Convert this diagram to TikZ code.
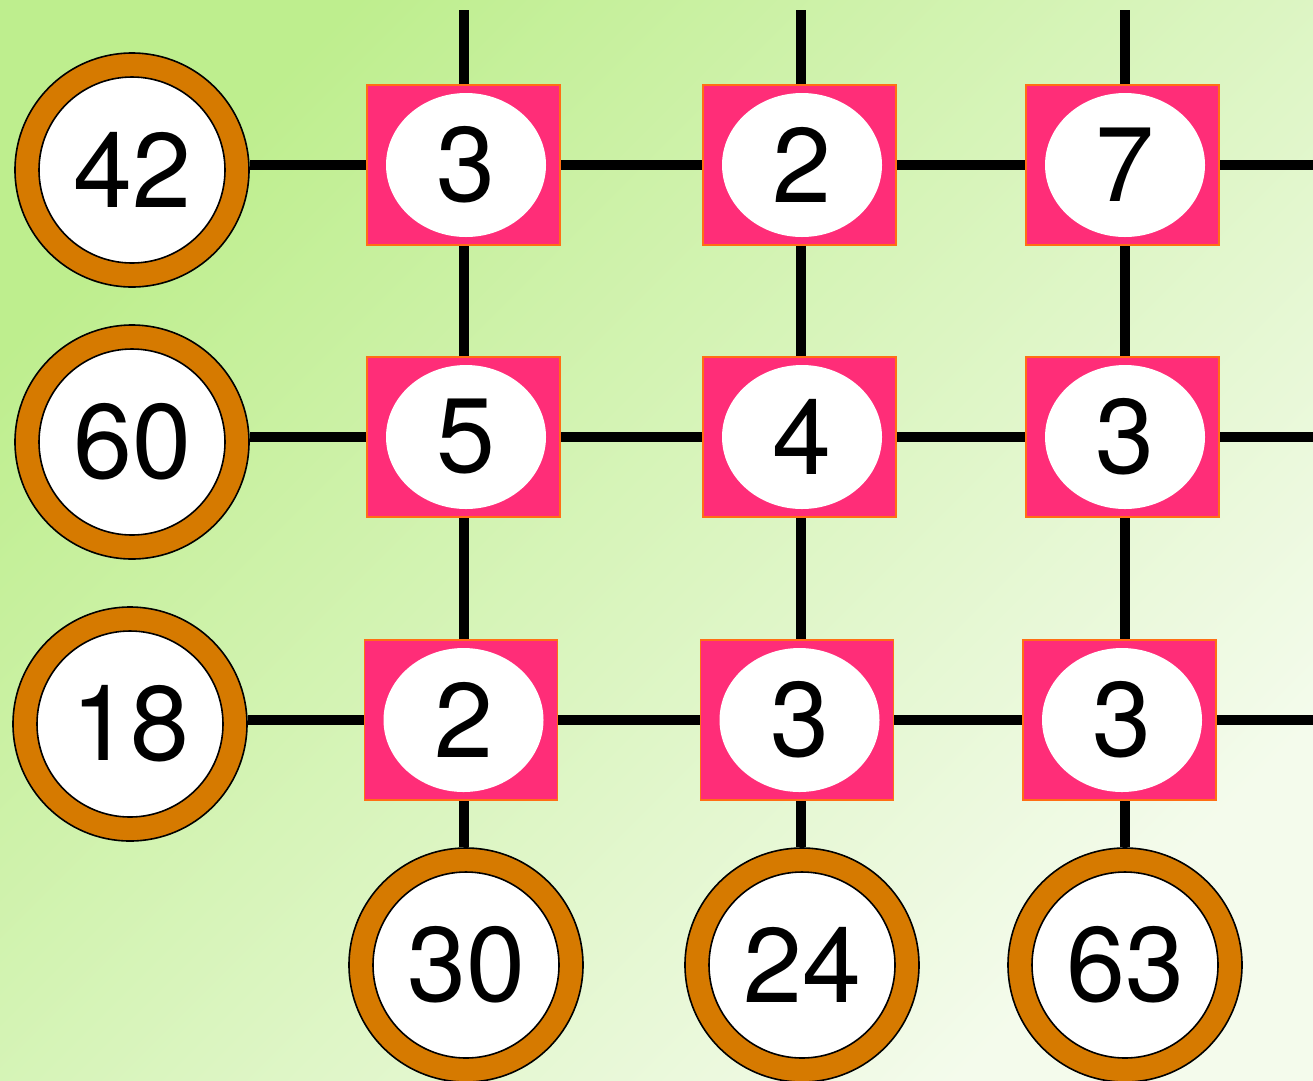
\documentclass[tikz,border=0pt]{standalone}
\usepackage{fontspec}
\setmainfont{TeX Gyre Heros}
\usetikzlibrary{shapes.geometric,backgrounds}
\definecolor{ringorange}{RGB}{214,122,0}
\definecolor{cellpink}{RGB}{255,45,120}
\definecolor{cellorange}{RGB}{255,110,20}
\definecolor{bgtop}{RGB}{190,238,142}
\definecolor{bgbot}{RGB}{244,251,236}
\begin{document}
\begin{tikzpicture}[x=1pt,y=-1pt,
  ring/.style={circle, minimum size=234pt, inner sep=0pt, fill=ringorange, draw=black, line width=1.6pt},
  disc/.style={circle, minimum size=186pt, inner sep=0pt, fill=white, draw=black, line width=1.6pt, font=\fontsize{106}{106}\selectfont},
  cell/.style={rectangle, minimum width=193pt, minimum height=160pt, inner sep=0pt, fill=cellpink, draw=cellorange, line width=1.2pt},
  oval/.style={ellipse, minimum width=160pt, minimum height=144pt, inner sep=0pt, fill=white, font=\fontsize{106}{106}\selectfont},
  wire/.style={line width=10.5pt, draw=black}]
\useasboundingbox (0,0) rectangle (1313,1080);
% grid cells
\node[cell] (s11) at (463.5,165) {};
\node[cell] (s12) at (799.5,165) {};
\node[cell] (s13) at (1122.5,165) {};
\node[cell] (s21) at (463.5,437) {};
\node[cell] (s22) at (799.5,437) {};
\node[cell] (s23) at (1122.5,437) {};
\node[cell] (s31) at (461,720) {};
\node[cell] (s32) at (797,720) {};
\node[cell] (s33) at (1119.5,720) {};
\node[oval] (o11) at ([xshift=2.5pt]s11.center) {3};
\node[oval] (o12) at ([xshift=2.5pt]s12.center) {2};
\node[oval] (o13) at ([xshift=2.5pt]s13.center) {7};
\node[oval] (o21) at ([xshift=2.5pt]s21.center) {5};
\node[oval] (o22) at ([xshift=2.5pt]s22.center) {4};
\node[oval] (o23) at ([xshift=2.5pt]s23.center) {3};
\node[oval] (o31) at ([xshift=2.5pt]s31.center) {2};
\node[oval] (o32) at ([xshift=2.5pt]s32.center) {3};
\node[oval] (o33) at ([xshift=2.5pt]s33.center) {3};
% clue rings
\node[ring] (L1) at (132,170) {};
\node[ring] (L2) at (132,442) {};
\node[ring] (L3) at (130,724) {};
\node[ring] (B1) at (466,965) {};
\node[ring] (B2) at (802,965) {};
\node[ring] (B3) at (1125,965) {};
\node[disc] (l1) at (L1) {42};
\node[disc] (l2) at (L2) {60};
\node[disc] (l3) at (L3) {18};
\node[disc] (b1) at (B1) {30};
\node[disc] (b2) at (B2) {24};
\node[disc] (b3) at (B3) {63};
% free ends
\coordinate (t1) at (464,10);
\coordinate (t2) at (801,10);
\coordinate (t3) at (1125,10);
\coordinate (e1) at (1313,165);
\coordinate (e2) at (1313,437);
\coordinate (e3) at (1313,720);
\begin{pgfonlayer}{background}
\shade[top color=bgtop, bottom color=bgbot, shading angle=45] (0,0) rectangle (1313,1080);
\draw[wire] (L1.east |- s11) -- (e1);
\draw[wire] (L2.east |- s21) -- (e2);
\draw[wire] (L3.east |- s31) -- (e3);
\draw[wire] (t1) -- (t1 |- B1.north);
\draw[wire] (t2) -- (t2 |- B2.north);
\draw[wire] (t3) -- (t3 |- B3.north);
\end{pgfonlayer}
\end{tikzpicture}
\end{document}
